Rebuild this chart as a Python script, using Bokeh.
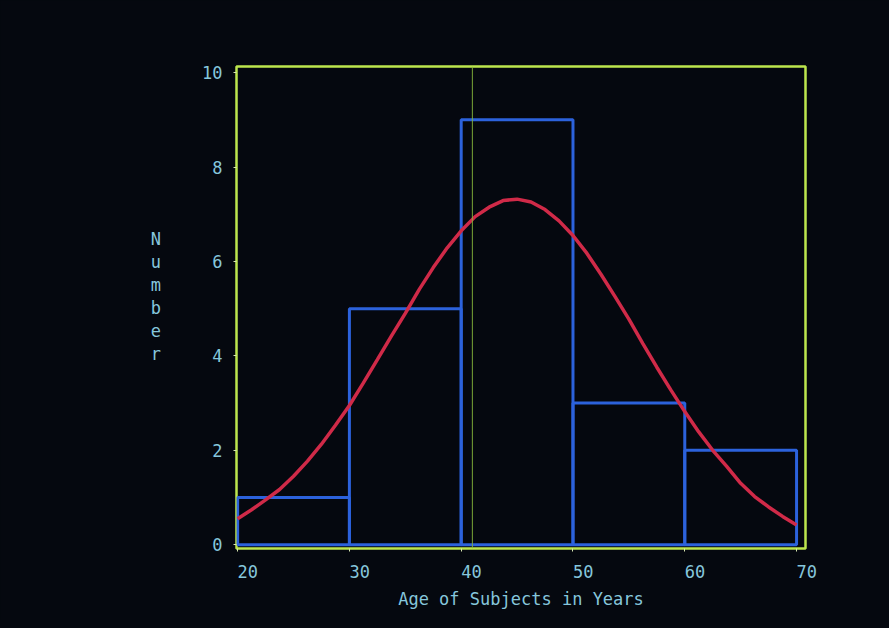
from bokeh.plotting import figure
from bokeh.models import Span, FixedTicker
from bokeh.embed import file_html
from bokeh.resources import INLINE

# ---- data ----
bin_left = [20, 30, 40, 50, 60]
bin_right = [30, 40, 50, 60, 70]
counts = [1, 5, 9, 3, 2]

curve_x = [20, 21.25, 22.5, 23.75, 25, 26.25, 27.5, 28.75, 30, 31.25, 32.5,
           33.75, 35, 36.25, 37.5, 38.75, 40, 41.25, 42.5, 43.75, 45,
           46.25, 47.5, 48.75, 50, 51.25, 52.5, 53.75, 55, 56.25, 57.5,
           58.75, 60, 61.25, 62.5, 63.75, 65, 66.25, 67.5, 68.75, 70]
curve_y = [0.55, 0.74, 0.95, 1.17, 1.45, 1.77, 2.13, 2.53, 2.95, 3.43, 3.92,
           4.42, 4.9, 5.41, 5.87, 6.29, 6.65, 6.95, 7.15, 7.29, 7.32,
           7.26, 7.1, 6.86, 6.55, 6.17, 5.73, 5.26, 4.78, 4.26, 3.76,
           3.28, 2.82, 2.39, 2.0, 1.66, 1.3, 1.02, 0.8, 0.6, 0.42]

x_ticks = [20, 30, 40, 50, 60, 70]
y_ticks = [0, 2, 4, 6, 8, 10]
x_title = "Age of Subjects in Years"
y_title = "Number"

BG = "#05080f"
FRAME = "#bde64e"
TXT = "#86c6dc"
BLUE = "#2c62dc"
RED = "#d02a48"
FONT = "DejaVu Sans Mono"

p = figure(width=881, height=620, output_backend="svg", toolbar_location=None,
           x_range=(19.9, 70.8), y_range=(-0.08, 10.13),
           min_border_left=236, min_border_right=76, min_border_top=66,
           min_border_bottom=72)
p.background_fill_color = BG
p.border_fill_color = BG
p.outline_line_color = FRAME
p.outline_line_width = 2.5
p.grid.visible = False

for ax in (p.xaxis[0], p.yaxis[0]):
    ax.axis_line_color = None
    ax.major_tick_line_color = "#d8e6b0"
    ax.major_tick_in = 0
    ax.major_tick_out = 3
    ax.minor_tick_line_color = None
    ax.major_label_text_color = TXT
    ax.major_label_text_font = FONT
    ax.major_label_text_font_size = "17px"

p.xaxis.ticker = FixedTicker(ticks=x_ticks)
p.yaxis.ticker = FixedTicker(ticks=y_ticks)
p.xaxis.major_label_overrides = {t: "\u00a0\u00a0" + str(t) for t in x_ticks}
p.xaxis.major_label_standoff = 10
p.yaxis.major_label_standoff = 11

p.xaxis.axis_label = x_title
p.xaxis.axis_label_text_color = TXT
p.xaxis.axis_label_text_font = FONT
p.xaxis.axis_label_text_font_style = "normal"
p.xaxis.axis_label_text_font_size = "17px"
p.xaxis.axis_label_standoff = 4

p.yaxis.axis_label = "\n".join(y_title) + "\n\u00a0"
p.yaxis.axis_label_orientation = "horizontal"
p.yaxis.axis_label_text_color = TXT
p.yaxis.axis_label_text_font = FONT
p.yaxis.axis_label_text_font_style = "normal"
p.yaxis.axis_label_text_font_size = "17px"
p.yaxis.axis_label_text_line_height = 1.15
p.yaxis.axis_label_standoff = 38

# thin vertical artifact line
p.add_layout(Span(location=41.0, dimension="height", line_color="#86b83c",
                  line_width=1, line_alpha=0.9))

p.quad(left=bin_left, right=bin_right, bottom=0, top=counts,
       fill_alpha=0, line_color=BLUE, line_width=3)

p.line(curve_x, curve_y, line_color=RED, line_width=3.5)

html = file_html(p, INLINE)
html = html.replace("<head>", "<head><style>body{background:%s;}</style>" % BG, 1)
open("out.html", "w").write(html)
